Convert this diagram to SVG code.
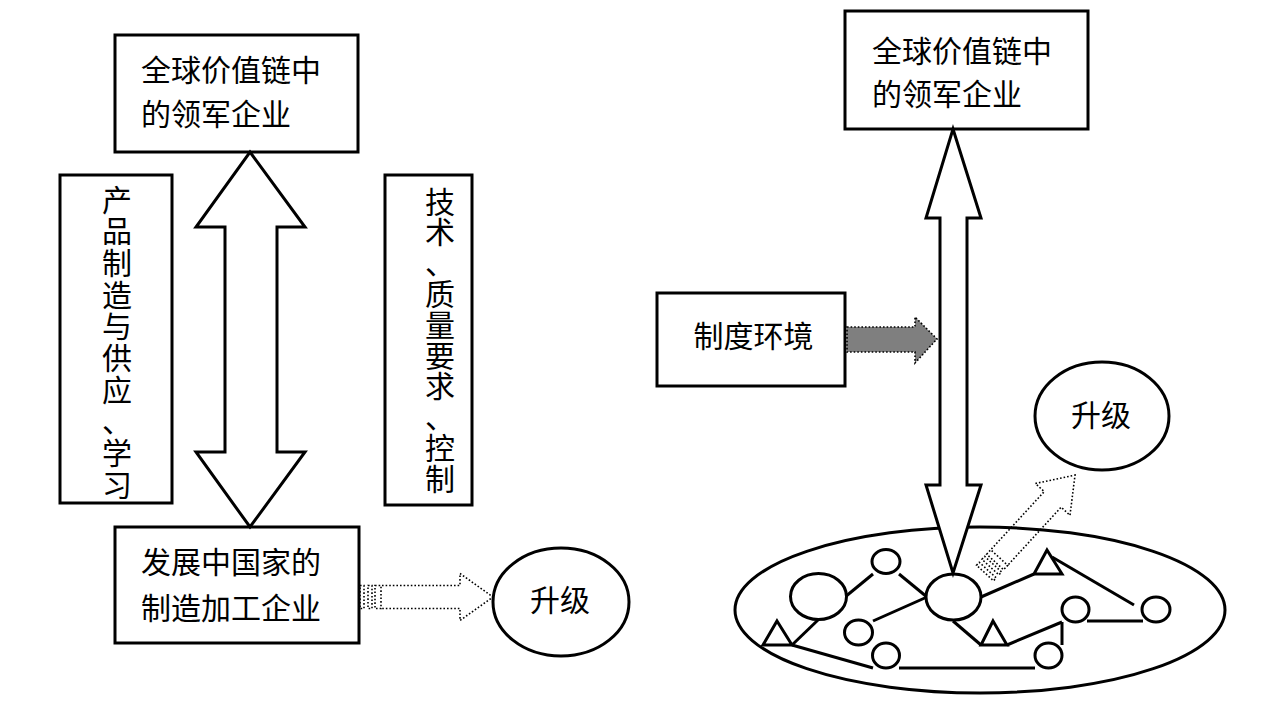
<svg xmlns="http://www.w3.org/2000/svg" width="1283" height="701" viewBox="0 0 1283 701">
<style>
.box{fill:#fff;stroke:#000;stroke-width:3}
.dbl{fill:#fff;stroke:#000;stroke-width:3;stroke-linejoin:miter}
.t{font-family:"Noto Sans CJK SC","Noto Sans CJK JP",sans-serif;font-size:30px;fill:#000}
.tc{font-family:"Noto Sans CJK SC","Noto Sans CJK JP",sans-serif;font-size:30px;fill:#000;text-anchor:middle}
.dot{fill:none;stroke:#000;stroke-width:1.6;stroke-dasharray:1.6 2}
.net{fill:none;stroke:#000;stroke-width:3}
.nd{fill:#fff;stroke:#000;stroke-width:3}
</style>
<defs>
<g id="dotArrow">
<rect class="dot" x="0" y="-11.5" width="4" height="23"/>
<rect class="dot" x="8" y="-11.5" width="4" height="23"/>
<rect class="dot" x="15" y="-11.5" width="6" height="23"/>
<path class="dot" d="M22,-11.5 L100,-11.5 L100,-23.5 L133,0 L100,23.5 L100,11.5 L22,11.5"/>
</g>
</defs>
<rect width="1283" height="701" fill="#fff"/>

<g id="left-top">
<rect class="box" x="115" y="35" width="243" height="117"/>
<text class="t" x="141" y="81">全球价值链中</text>
<text class="t" x="141" y="125">的领军企业</text>
</g>

<g id="left-box1">
<rect class="box" x="60" y="175" width="112" height="328"/>
<text class="tc"><tspan x="117" y="210.5">产</tspan><tspan x="117" y="242.2">品</tspan><tspan x="117" y="273.9">制</tspan><tspan x="117" y="305.6">造</tspan><tspan x="117" y="337.3">与</tspan><tspan x="117" y="369">供</tspan><tspan x="117" y="400.7">应</tspan><tspan x="117" y="432.4">、</tspan><tspan x="117" y="464.1">学</tspan><tspan x="117" y="495.8">习</tspan></text>
</g>

<g id="left-box2">
<rect class="box" x="385" y="175" width="87" height="330"/>
<text class="tc"><tspan x="440" y="212.5">技</tspan><tspan x="440" y="243.3">术</tspan><tspan x="440" y="274.1">、</tspan><tspan x="440" y="304.9">质</tspan><tspan x="440" y="335.7">量</tspan><tspan x="440" y="366.5">要</tspan><tspan x="440" y="397.3">求</tspan><tspan x="440" y="428.1">、</tspan><tspan x="440" y="458.9">控</tspan><tspan x="440" y="489.7">制</tspan></text>
</g>

<g id="left-bottom">
<rect class="box" x="115" y="527" width="244" height="116"/>
<text class="t" x="141" y="573">发展中国家的</text>
<text class="t" x="141" y="619">制造加工企业</text>
</g>

<g id="left-upgrade">
<ellipse class="box" cx="561" cy="602" rx="68" ry="54"/>
<text class="tc" x="560" y="611">升级</text>
</g>

<g id="right-top">
<rect class="box" x="845" y="11" width="243" height="118"/>
<text class="t" x="872" y="62">全球价值链中</text>
<text class="t" x="872" y="105">的领军企业</text>
</g>

<g id="institution">
<rect class="box" x="657" y="293" width="188" height="93"/>
<text class="tc" x="753.5" y="347">制度环境</text>
</g>

<g id="right-upgrade">
<ellipse class="box" cx="1102" cy="416" rx="67" ry="54"/>
<text class="tc" x="1101" y="426">升级</text>
</g>

<g id="cluster">
<ellipse class="net" cx="980" cy="610" rx="245" ry="83"/>
<g id="cluster-links">
<line class="net" x1="845" y1="597" x2="873" y2="574"/>
<line class="net" x1="899" y1="574" x2="927" y2="597"/>
<line class="net" x1="873" y1="621" x2="927" y2="597"/>
<line class="net" x1="818" y1="620" x2="792" y2="645"/>
<line class="net" x1="792" y1="645" x2="873" y2="668"/>
<line class="net" x1="899" y1="668" x2="1035" y2="668"/>
<line class="net" x1="953" y1="621" x2="981" y2="645"/>
<line class="net" x1="1007" y1="645" x2="1062" y2="622"/>
<line class="net" x1="1062" y1="622" x2="1062" y2="645"/>
<line class="net" x1="981" y1="597" x2="1034" y2="574"/>
<line class="net" x1="1052" y1="557" x2="1134" y2="605"/>
<line class="net" x1="1087" y1="621" x2="1143" y2="621"/>
</g>
<ellipse class="nd" cx="818.5" cy="596.5" rx="28" ry="23"/>
<ellipse class="nd" cx="886" cy="561.5" rx="14" ry="12"/>
<ellipse class="nd" cx="953.5" cy="597" rx="27.5" ry="23"/>
<ellipse class="nd" cx="858.5" cy="632.5" rx="14" ry="12.5"/>
<ellipse class="nd" cx="886" cy="655.5" rx="13.5" ry="12.5"/>
<ellipse class="nd" cx="1048.5" cy="655.5" rx="13.5" ry="12.5"/>
<ellipse class="nd" cx="1075.5" cy="609.5" rx="13.5" ry="12.5"/>
<ellipse class="nd" cx="1156" cy="609.5" rx="14" ry="12.5"/>
<polygon class="nd" points="777,621 792,645 763,645"/>
<polygon class="nd" points="993,621 1007,645 981,645"/>
<polygon class="nd" points="1047,550 1062,574 1034,574"/>
</g>

<g id="connectors">
<polygon class="dbl" points="250,152 305,227 277,227 277,452 305,452 250,527 196,452 225,452 225,227 196,227"/>
<use href="#dotArrow" transform="translate(360,597)"/>
<polygon class="dbl" points="953,129 981,218 967,218 967,485 981,485 953,573 926,485 940,485 940,218 926,218"/>
<path d="M847,327 L915,327 L915,317 L937,339 L915,363 L915,352 L847,352 Z" fill="#7f7f7f" stroke="#000" stroke-width="1.6" stroke-dasharray="1.6 2"/>
<use href="#dotArrow" transform="translate(985,573) rotate(-47.4)"/>
</g>
</svg>
